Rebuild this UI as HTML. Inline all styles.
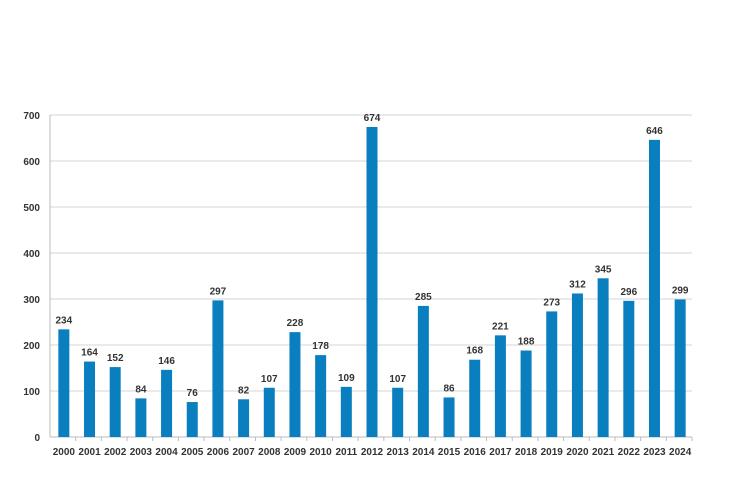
<!DOCTYPE html>
<html><head><meta charset="utf-8"><style>
body{margin:0;background:#fff;}
svg{display:block;font-family:"Liberation Sans",sans-serif;}
</style></head><body>
<svg id="chart" width="751" height="484" viewBox="0 0 751 484"></svg>
<script>
const categories=["2000","2001","2002","2003","2004","2005","2006","2007","2008","2009","2010","2011","2012","2013","2014","2015","2016","2017","2018","2019","2020","2021","2022","2023","2024"];
const values=[234,164,152,84,146,76,297,82,107,228,178,109,674,107,285,86,168,221,188,273,312,345,296,646,299];
const yTicks=[0,100,200,300,400,500,600,700];
const svg=document.getElementById('chart');
const NS='http://www.w3.org/2000/svg';
const L=50,R=692,T=115,B=437,yMax=700;
const band=(R-L)/categories.length;
const y=v=>B-(v/yMax)*(B-T);
const x=i=>L+band*(i+0.5)+1;
function mk(tag,attrs,txt){const e=document.createElementNS(NS,tag);for(const k in attrs)e.setAttribute(k,attrs[k]);if(txt!==undefined)e.textContent=txt;svg.appendChild(e);return e;}
yTicks.forEach(t=>{
  const g=mk('line',{x1:L,x2:R,y1:y(t),y2:y(t),stroke:t===0?'#bbb':'#d4d4d4','stroke-width':1});
  
  
  const lb=mk('text',{x:L-10,y:y(t)+4,'text-anchor':'end','font-size':10,'font-weight':'bold',fill:'#333'},t);
  
  
});
const ax=mk('line',{x1:L,x2:L,y1:T,y2:B,stroke:'#bbb','stroke-width':1});


categories.forEach((c,i)=>{
  const tk=mk('line',{x1:L+band*(i+1),x2:L+band*(i+1),y1:B,y2:B+4,stroke:'#bbb'});
  
  
  const v=values[i];
  const r=mk('rect',{x:x(i)-5.5,y:y(v),width:11,height:B-y(v),fill:'#0a7fc0'});
  
  
  const vl=mk('text',{x:x(i),y:y(v)-6,'text-anchor':'middle','font-size':10,'font-weight':'bold',fill:'#333'},v);
  
  
  const xl=mk('text',{x:x(i),y:B+18,'text-anchor':'middle','font-size':10,'font-weight':'bold',fill:'#333'},c);
  
  
});
</script>
</body></html>
